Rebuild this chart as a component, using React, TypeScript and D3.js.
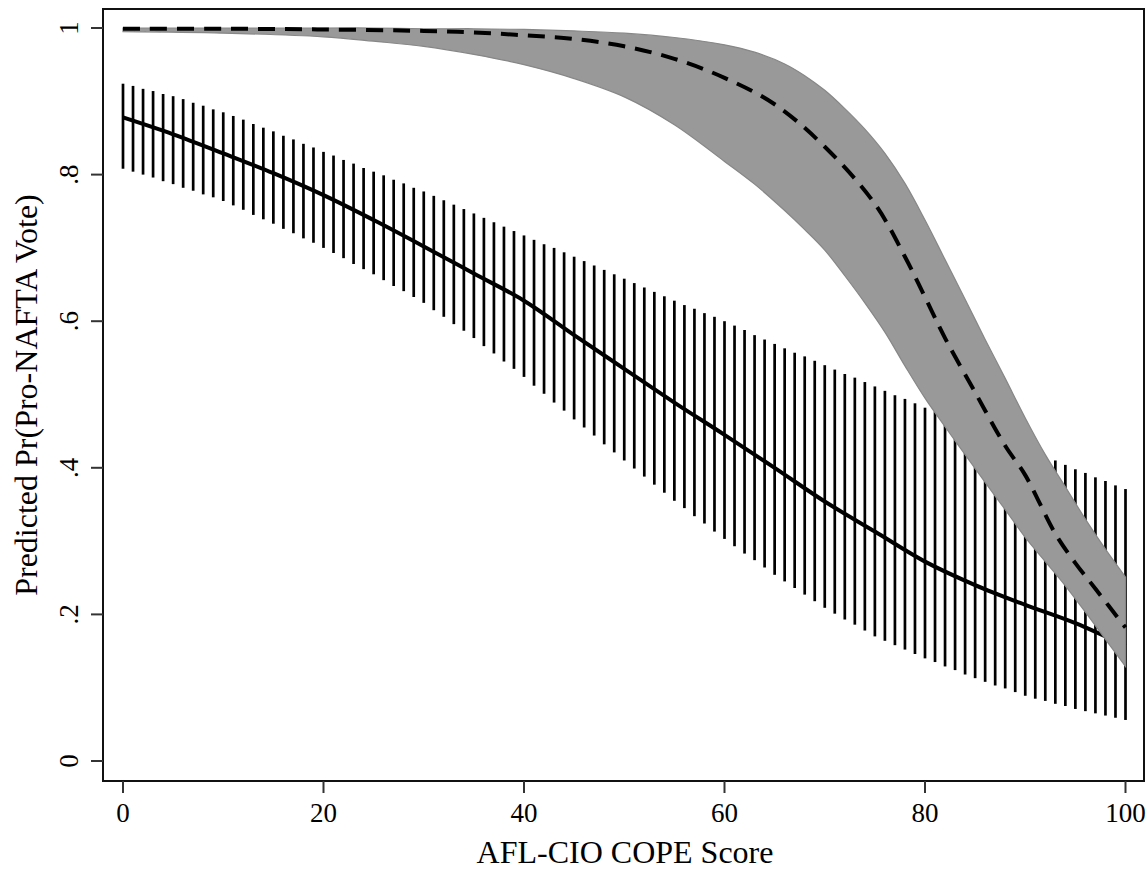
import React from "react";
import * as d3 from "d3";

// x-axis ticks and y-axis ticks
const xTicks = [0, 20, 40, 60, 80, 100];
const yTicks = [0, 0.2, 0.4, 0.6, 0.8, 1];
const yTickLabels = ["0", ".2", ".4", ".6", ".8", "1"];

// Solid series (predicted probability) read every 5 points
const solidX = [0, 5, 10, 15, 20, 25, 30, 35, 40, 45, 50, 55, 60, 65, 70, 75, 80, 85, 90, 95, 100];
const solidY = [0.878, 0.855, 0.829, 0.802, 0.772, 0.738, 0.702, 0.665, 0.628, 0.581, 0.535, 0.489, 0.445, 0.4, 0.354, 0.313, 0.272, 0.24, 0.213, 0.188, 0.157];

// Error bars for the solid series, one per score 0..100
const barX = [
  0, 1, 2, 3, 4, 5, 6, 7, 8, 9, 10, 11, 12, 13, 14, 15, 16, 17, 18, 19, 20,
  21, 22, 23, 24, 25, 26, 27, 28, 29, 30, 31, 32, 33, 34, 35, 36, 37, 38, 39, 40,
  41, 42, 43, 44, 45, 46, 47, 48, 49, 50, 51, 52, 53, 54, 55, 56, 57, 58, 59, 60,
  61, 62, 63, 64, 65, 66, 67, 68, 69, 70, 71, 72, 73, 74, 75, 76, 77, 78, 79, 80,
  81, 82, 83, 84, 85, 86, 87, 88, 89, 90, 91, 92, 93, 94, 95, 96, 97, 98, 99, 100,
];
const barUpper = [
  0.924, 0.921, 0.917, 0.914, 0.91, 0.907, 0.903, 0.898, 0.894, 0.889, 0.885,
  0.88, 0.875, 0.869, 0.864, 0.859, 0.853, 0.848, 0.842, 0.837, 0.831,
  0.826, 0.82, 0.815, 0.809, 0.804, 0.799, 0.793, 0.788, 0.782, 0.777,
  0.771, 0.765, 0.759, 0.753, 0.747, 0.741, 0.735, 0.729, 0.723, 0.717,
  0.711, 0.705, 0.7, 0.694, 0.688, 0.682, 0.676, 0.67, 0.664, 0.658,
  0.652, 0.646, 0.64, 0.634, 0.628, 0.622, 0.617, 0.611, 0.606, 0.6,
  0.594, 0.588, 0.581, 0.575, 0.569, 0.563, 0.557, 0.552, 0.546, 0.54,
  0.534, 0.528, 0.523, 0.517, 0.511, 0.505, 0.499, 0.494, 0.488, 0.482,
  0.477, 0.471, 0.466, 0.46, 0.455, 0.45, 0.444, 0.439, 0.433, 0.428,
  0.422, 0.416, 0.41, 0.404, 0.398, 0.393, 0.387, 0.382, 0.376, 0.371,
];
const barLower = [
  0.808, 0.804, 0.8, 0.796, 0.791, 0.787, 0.782, 0.778, 0.773, 0.769, 0.764,
  0.758, 0.752, 0.745, 0.739, 0.733, 0.726, 0.72, 0.713, 0.707, 0.7,
  0.693, 0.686, 0.678, 0.671, 0.664, 0.656, 0.648, 0.641, 0.633, 0.625,
  0.615, 0.606, 0.596, 0.587, 0.577, 0.566, 0.556, 0.545, 0.535, 0.524,
  0.512, 0.501, 0.489, 0.478, 0.466, 0.455, 0.444, 0.432, 0.421, 0.41,
  0.399, 0.388, 0.377, 0.366, 0.355, 0.345, 0.334, 0.324, 0.313, 0.303,
  0.293, 0.283, 0.274, 0.264, 0.254, 0.245, 0.236, 0.227, 0.218, 0.209,
  0.201, 0.193, 0.186, 0.178, 0.17, 0.164, 0.158, 0.152, 0.146, 0.14,
  0.135, 0.129, 0.124, 0.118, 0.113, 0.108, 0.103, 0.099, 0.094, 0.089,
  0.085, 0.082, 0.078, 0.075, 0.071, 0.068, 0.065, 0.062, 0.059, 0.056,
];

// Dashed series
const dashX = [0, 10, 20, 30, 35, 40, 45, 50, 55, 60, 65, 70, 75, 78, 80, 82, 85, 88, 90, 93, 95, 97, 100];
const dashY = [0.999, 0.999, 0.998, 0.996, 0.994, 0.99, 0.985, 0.975, 0.958, 0.932, 0.896, 0.838, 0.76, 0.688, 0.633, 0.577, 0.503, 0.43, 0.39, 0.31, 0.27, 0.235, 0.182];

// Shaded band for the dashed series
const bandX = [0, 10, 20, 25, 30, 35, 40, 45, 50, 55, 60, 63, 66, 68, 70, 72, 74, 76, 78, 80, 82, 84, 86, 88, 90, 92, 94, 96, 98, 100];
const bandUpper = [1.0, 1.0, 1.0, 1.0, 0.999, 0.999, 0.998, 0.996, 0.993, 0.987, 0.977, 0.967, 0.951, 0.935, 0.915, 0.89, 0.862, 0.829, 0.788, 0.738, 0.684, 0.63, 0.575, 0.522, 0.468, 0.418, 0.374, 0.33, 0.289, 0.251];
const bandLower = [0.995, 0.993, 0.988, 0.982, 0.975, 0.964, 0.95, 0.931, 0.906, 0.868, 0.818, 0.787, 0.751, 0.725, 0.697, 0.662, 0.625, 0.585, 0.539, 0.495, 0.456, 0.418, 0.38, 0.343, 0.305, 0.272, 0.239, 0.203, 0.166, 0.129];

const xTitle = "AFL-CIO COPE Score";
const yTitle = "Predicted Pr(Pro-NAFTA Vote)";

export default function App() {
  const W = 1148;
  const H = 871;
  const frame = { left: 103, right: 1144, top: 9, bottom: 781 };
  const x = d3.scaleLinear().domain([0, 100]).range([123, 1125.5]);
  const y = d3.scaleLinear().domain([0, 1]).range([761, 28]);
  const font = "'Liberation Serif', 'Times New Roman', serif";
  const curve = d3.curveCatmullRom.alpha(0.5);

  const solidPts = solidX.map((v, i) => [v, solidY[i]] as [number, number]);
  const dashPts = dashX.map((v, i) => [v, dashY[i]] as [number, number]);
  const bandPts = bandX.map((v, i) => ({ x: v, lo: bandLower[i], hi: bandUpper[i] }));

  const line = d3
    .line<[number, number]>()
    .x((d) => x(d[0]))
    .y((d) => y(d[1]))
    .curve(curve);

  const area = d3
    .area<{ x: number; lo: number; hi: number }>()
    .x((d) => x(d.x))
    .y0((d) => y(d.lo))
    .y1((d) => y(d.hi))
    .curve(curve);

  return (
    <svg
      width={W}
      height={H}
      style={{ position: "absolute", left: 0, top: 0, background: "#fff" }}
      fontFamily={font}
    >
      <rect x={0} y={0} width={W} height={H} fill="#fff" />
      {/* error bars */}
      <g stroke="#000" strokeWidth={2.7}>
        {barX.map((v, i) => (
          <line key={i} x1={x(v)} x2={x(v)} y1={y(barUpper[i])} y2={y(barLower[i])} />
        ))}
      </g>
      {/* solid line */}
      <path d={line(solidPts) || ""} fill="none" stroke="#000" strokeWidth={4} />
      {/* band */}
      <path d={area(bandPts) || ""} fill="#999999" stroke="#878787" strokeWidth={1.2} />
      {/* dashed line */}
      <path
        d={line(dashPts) || ""}
        fill="none"
        stroke="#000"
        strokeWidth={4}
        strokeDasharray="17,10"
      />
      {/* frame */}
      <rect
        x={frame.left}
        y={frame.top}
        width={frame.right - frame.left}
        height={frame.bottom - frame.top}
        fill="none"
        stroke="#111"
        strokeWidth={2}
      />
      {/* y ticks */}
      <g>
        {yTicks.map((t, i) => (
          <g key={i}>
            <line x1={frame.left - 12} x2={frame.left} y1={y(t)} y2={y(t)} stroke="#333" strokeWidth={2} />
            <text
              transform={`translate(78,${y(t)}) rotate(-90)`}
              textAnchor="middle"
              fontSize={27}
              fill="#000"
            >
              {yTickLabels[i]}
            </text>
          </g>
        ))}
      </g>
      {/* x ticks */}
      <g>
        {xTicks.map((t, i) => (
          <g key={i}>
            <line x1={x(t)} x2={x(t)} y1={frame.bottom} y2={frame.bottom + 12} stroke="#333" strokeWidth={2} />
            <text x={x(t)} y={822} textAnchor="middle" fontSize={27} fill="#000">
              {String(t)}
            </text>
          </g>
        ))}
      </g>
      <text x={625} y={863} textAnchor="middle" fontSize={32} fill="#000">
        {xTitle}
      </text>
      <text
        transform={`translate(37,${(frame.top + frame.bottom) / 2}) rotate(-90)`}
        textAnchor="middle"
        fontSize={32}
        fill="#000"
      >
        {yTitle}
      </text>
    </svg>
  );
}
